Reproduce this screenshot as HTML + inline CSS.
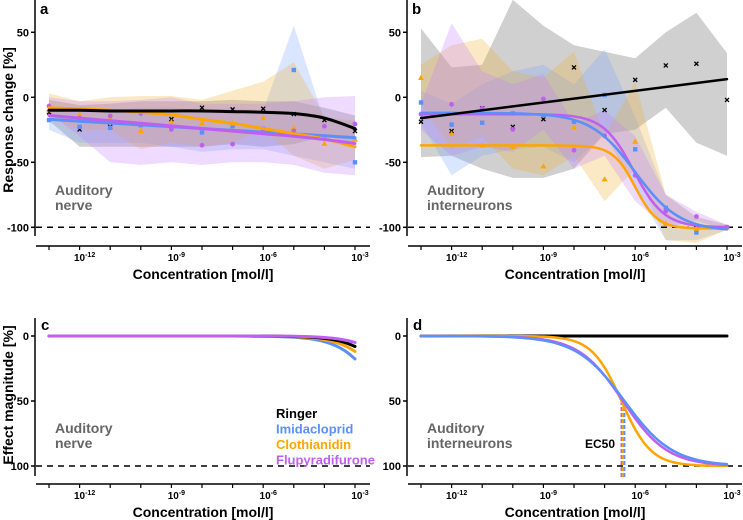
<!DOCTYPE html>
<html><head><meta charset="utf-8"><style>
body{margin:0;background:#fff}
svg{display:block;font-family:"Liberation Sans",Arial,sans-serif;font-weight:bold}
</style></head><body>
<svg id="c" width="743" height="520" viewBox="0 0 743 520"></svg>
<script>
const logConc=[-13,-12,-11,-10,-9,-8,-7,-6,-5,-4,-3];
const tickLabelLogs=[-12,-9,-6,-3];
const seriesNames=["Ringer","Imidacloprid","Clothianidin","Flupyradifurone"];
const seriesColors=["#000000","#5b8ff9","#ffa500","#bf5fef"];
const bandColors=["#555555","#7aa2ff","#f0b030","#c27cff"];
// Panel a (auditory nerve) response means
const aRinger=[-11.6,-24.7,-22.7,-21.1,-16.8,-8,-9.3,-8.8,-12.9,-17.5,-26];
const aImida=[-17.5,-22.7,-23.5,-21.4,-22.7,-27,-22.2,-24.2,21,-31,-50];
const aCloth=[-9.8,-13,-16,-25.8,-18.8,-20,-20,-15.7,-23.5,-35.6,-32.5];
const aFlupy=[-6.7,-16,-14.4,-12.4,-24.7,-36.9,-36,-24.7,-25.8,-22.2,-20.6];
const aFitRinger=[-10,-10,-10.5,-10.5,-10.5,-10.5,-11,-11.5,-12.5,-16,-24];
const aFitImida=[-17,-18.4,-19.8,-21.2,-22.6,-24,-25.4,-26.8,-28.2,-29.6,-31];
const aFitCloth=[-8,-9,-10,-11.5,-13.5,-17,-20,-24,-28,-32,-38];
const aFitFlupy=[-14,-16,-18,-20,-22,-24,-26,-28,-30,-32.5,-35.5];
const aUpRinger=[-2,-6,-5,-3,-3,-3,-2,-3,-3,-8,-14];
const aLoRinger=[-18,-38,-38,-38,-38,-38,-36,-38,-36,-30,-35];
const aUpImida=[-8,-10,-10,-8,-8,-10,-8,-10,55,-18,-18];
const aLoImida=[-25,-35,-35,-35,-38,-42,-40,-40,-45,-50,-55];
const aUpCloth=[3,-3,0,1,1,-2,5,12,27,-15,-18];
const aLoCloth=[-15,-25,-25,-40,-35,-38,-35,-25,-45,-55,-48];
const aUpFlupy=[0,-3,-3,-2,0,-5,-5,-5,-3,0,1];
const aLoFlupy=[-12,-30,-50,-52,-50,-52,-50,-50,-52,-58,-60];
// Panel b (interneurons)
const bRinger=[-18.8,-26,-8.5,-22.7,-16.8,23,-9.8,13.4,24.5,25.8,-2];
const bImida=[-4,-21,-19.6,-12.4,-14,-18.8,1.8,-40,-85,-104,-100];
const bCloth=[15,-28,-37,-38,-53,-23,-63,-34,-97,-101,-100];
const bFlupy=[-13,-5.4,-8.5,-24.7,-1.3,-40.7,-29.6,-60,-87.6,-91.7,-100];
const bUpRinger=[53,23,25,75,55,40,35,30,50,65,34];
const bLoRinger=[-46,-45,-55,-62,-62,-55,-28,-25,-8,-35,-45];
const bUpImida=[5,-5,10,20,25,10,37,-15,-75,-92,-98];
const bLoImida=[-20,-60,-45,-40,-38,-50,-28,-70,-110,-110,-102];
const bUpCloth=[25,40,45,20,15,35,-30,12,-75,-92,-98];
const bLoCloth=[-5,-40,-30,-55,-60,-45,-80,-55,-110,-112,-102];
const bUpFlupy=[-5,57,20,10,18,-20,-10,-30,-75,-88,-98];
const bLoFlupy=[-25,-45,-38,-42,-25,-55,-45,-80,-100,-95,-102];
// Fit params for b: [top, bottom, logEC50, hill]
const bRingerLine=[-16,14];
const bFitImida=[-12,-103,-6.0,0.6];
const bFitCloth=[-37,-101,-6.0,1.2];
const bFitFlupy=[-13,-100,-6.05,0.87];
// Effect magnitude fits: [logEC50, hill]
const cFitRinger=[-1.42,0.67];
const cFitImida=[-2.0,0.67];
const cFitCloth=[-1.7,0.67];
const cFitFlupy=[-1.09,0.67];
const dFitImida=[-6.35,0.55];
const dFitCloth=[-6.45,0.9];
const dFitFlupy=[-6.4,0.6];
const dEC50=[-6.45,-6.4,-6.35];
const dEC50Colors=["#bf5fef","#ffa500","#5b8ff9"];

const NS="http://www.w3.org/2000/svg";
const svg=document.getElementById('c');
function el(tag,attrs,parent){const e=document.createElementNS(NS,tag);for(const k in attrs)e.setAttribute(k,attrs[k]);(parent||svg).appendChild(e);return e;}
function xS(x0){return l=>x0+(l+13)*30.6;}
function yTop(v){return 97.3-v*1.3;}
function yBot(v){return 336+v*1.3;}
function smooth(pts){let d="M"+pts[0][0]+","+pts[0][1];for(let i=0;i<pts.length-1;i++){const p0=pts[i-1]||pts[i],p1=pts[i],p2=pts[i+1],p3=pts[i+2]||p2;
d+=" C"+(p1[0]+(p2[0]-p0[0])/6)+","+(p1[1]+(p2[1]-p0[1])/6)+" "+(p2[0]-(p3[0]-p1[0])/6)+","+(p2[1]-(p3[1]-p1[1])/6)+" "+p2[0]+","+p2[1];}return d;}
function sig(top,bot,L,h,x){return top+(bot-top)/(1+Math.pow(10,h*(L-x)));}

function axes(g,ax0,yAxTop,yAxBot,yAxisX,xLineY,yTicks,yFn,dashV){
  const X=xS(ax0);
  el('line',{x1:yAxisX,y1:yAxTop,x2:yAxisX,y2:yAxBot,stroke:'#000','stroke-width':1.5},g);
  yTicks.forEach(v=>{el('line',{x1:yAxisX-4,y1:yFn(v),x2:yAxisX,y2:yFn(v),stroke:'#000','stroke-width':1.5},g);
    const t=el('text',{x:yAxisX-6,y:yFn(v)+4,'text-anchor':'end','font-size':11},g);t.textContent=v;});
  el('line',{x1:yAxisX+1,y1:xLineY,x2:yAxisX+335,y2:xLineY,stroke:'#000','stroke-width':1.5},g);
  logConc.forEach(l=>el('line',{x1:X(l),y1:xLineY,x2:X(l),y2:xLineY+4,stroke:'#000','stroke-width':1.2},g));
  tickLabelLogs.forEach(l=>{const t=el('text',{x:X(l)+5,y:xLineY+15,'text-anchor':'middle','font-size':10},g);
    t.innerHTML='10<tspan dy="-4" font-size="7">'+l+'</tspan>';});
  el('line',{x1:yAxisX+1,y1:yFn(dashV),x2:yAxisX+335,y2:yFn(dashV),stroke:'#000','stroke-width':1.5,'stroke-dasharray':'6,5'},g);
  const t=el('text',{x:yAxisX+168,y:xLineY+33,'text-anchor':'middle','font-size':14},g);t.textContent='Concentration [mol/l]';
}
function band(g,X,up,lo,color,name){
  const pts=logConc.map((l,i)=>X(l)+","+yTop(up[i])).concat(logConc.slice().reverse().map((l,j)=>{const i=10-j;return X(l)+","+yTop(lo[i]);}));
  const p=el('polygon',{points:pts.join(' '),fill:color,'fill-opacity':0.28},g);
  
  
}
function markers(g,X,vals,k,name){
  vals.forEach((v,i)=>{const x=X(logConc[i]),y=yTop(v);let m;
    if(k===0){m=el('path',{d:`M${x-2},${y-2}L${x+2},${y+2}M${x+2},${y-2}L${x-2},${y+2}`,stroke:'#000','stroke-width':1.3},g);}
    else if(k===1){m=el('rect',{x:x-2.2,y:y-2.2,width:4.4,height:4.4,fill:seriesColors[1]},g);}
    else if(k===2){m=el('polygon',{points:`${x},${y-3} ${x+3},${y+2.2} ${x-3},${y+2.2}`,fill:seriesColors[2]},g);}
    else {m=el('circle',{cx:x,cy:y,r:2.4,fill:seriesColors[3]},g);}
    
    });
}
function curve(g,pts,color,w,name){const p=el('path',{d:smooth(pts),fill:'none',stroke:color,'stroke-width':w,'stroke-linecap':'round'},g);
  
  }
function sampled(X,yFn,f){const pts=[];for(let l=-13;l<=-3.0001+0.25;l+=0.25){const ll=Math.min(l,-3);pts.push([X(ll),yFn(f(ll))]);}return pts;}
function label(g,x,y,txt,size,color,name){const t=el('text',{x:x,y:y,'font-size':size,fill:color},g);t.textContent=txt;
  
  return t;}

// Panel a
const ga=el('g',{});


{const X=xS(49);
 band(ga,X,aUpRinger,aLoRinger,bandColors[0],'band-ringer');
 band(ga,X,aUpImida,aLoImida,bandColors[1],'band-imidacloprid');
 band(ga,X,aUpCloth,aLoCloth,bandColors[2],'band-clothianidin');
 band(ga,X,aUpFlupy,aLoFlupy,bandColors[3],'band-flupyradifurone');
 axes(ga,49,0,236,35,246,[50,0,-50,-100],yTop,-100);
 markers(ga,X,aRinger,0,'points-ringer');markers(ga,X,aImida,1,'points-imidacloprid');markers(ga,X,aCloth,2,'points-clothianidin');markers(ga,X,aFlupy,3,'points-flupyradifurone');
 curve(ga,logConc.map((l,i)=>[X(l),yTop(aFitImida[i])]),seriesColors[1],3,'fit-imidacloprid');
 curve(ga,logConc.map((l,i)=>[X(l),yTop(aFitCloth[i])]),seriesColors[2],3,'fit-clothianidin');
 curve(ga,logConc.map((l,i)=>[X(l),yTop(aFitFlupy[i])]),seriesColors[3],3,'fit-flupyradifurone');
 curve(ga,logConc.map((l,i)=>[X(l),yTop(aFitRinger[i])]),'#000',3,'fit-ringer');
 label(ga,40,14,'a',15,'#000','panel-letter-a');
 label(ga,55,195,'Auditory',14,'#666','annotation-line1');label(ga,55,210,'nerve',14,'#666','annotation-line2');
 const yt=el('text',{x:0,y:0,'font-size':14,'text-anchor':'middle',transform:'translate(13,120) rotate(-90)'},ga);yt.textContent='Response change [%]';
 
 
}
// Panel b
const gb=el('g',{});


{const X=xS(421);
 band(gb,X,bUpRinger,bLoRinger,bandColors[0],'band-ringer');
 band(gb,X,bUpImida,bLoImida,bandColors[1],'band-imidacloprid');
 band(gb,X,bUpCloth,bLoCloth,bandColors[2],'band-clothianidin');
 band(gb,X,bUpFlupy,bLoFlupy,bandColors[3],'band-flupyradifurone');
 axes(gb,421,0,236,407,246,[50,0,-50,-100],yTop,-100);
 markers(gb,X,bRinger,0,'points-ringer');markers(gb,X,bImida,1,'points-imidacloprid');markers(gb,X,bCloth,2,'points-clothianidin');markers(gb,X,bFlupy,3,'points-flupyradifurone');
 curve(gb,sampled(X,yTop,x=>sig(...bFitCloth,x)),seriesColors[2],2.5,'fit-clothianidin');
 curve(gb,sampled(X,yTop,x=>sig(...bFitFlupy,x)),seriesColors[3],2.5,'fit-flupyradifurone');
 curve(gb,sampled(X,yTop,x=>sig(...bFitImida,x)),seriesColors[1],2.5,'fit-imidacloprid');
 curve(gb,[[X(-13),yTop(bRingerLine[0])],[X(-3),yTop(bRingerLine[1])]],'#000',2.5,'fit-ringer');
 label(gb,412,14,'b',15,'#000','panel-letter-b');
 label(gb,427,195,'Auditory',14,'#666','annotation-line1');label(gb,427,210,'interneurons',14,'#666','annotation-line2');
}
// Panel c
const gc=el('g',{});


{const X=xS(49);
 axes(gc,49,318,476,35,484,[0,50,100],yBot,100);
 const fits=[cFitImida,cFitCloth,cFitRinger,cFitFlupy],cols=[1,2,0,3];
 fits.forEach((f,j)=>curve(gc,sampled(X,yBot,x=>sig(0,100,f[0],f[1],x)),seriesColors[cols[j]],3,'fit-'+seriesNames[cols[j]].toLowerCase()));
 label(gc,41,330,'c',15,'#000','panel-letter-c');
 label(gc,55,433,'Auditory',14,'#666','annotation-line1');label(gc,55,448,'nerve',14,'#666','annotation-line2');
 seriesNames.forEach((n,i)=>label(gc,276,418+i*15.5,n,13,seriesColors[i],'legend-entry-'+n.toLowerCase()));
 const yt=el('text',{x:0,y:0,'font-size':14,'text-anchor':'middle',transform:'translate(13,395) rotate(-90)'},gc);yt.textContent='Effect magnitude [%]';
 
 
}
// Panel d
const gd=el('g',{});


{const X=xS(421);
 axes(gd,421,318,476,407,484,[0,50,100],yBot,100);
 dEC50.forEach((l,i)=>{const ln=el('line',{x1:X(l),y1:yBot(50),x2:X(l),y2:478,stroke:dEC50Colors[i],'stroke-width':1.8,'stroke-dasharray':'4,2'},gd);
   
   });
 curve(gd,[[X(-13),yBot(0)],[X(-3),yBot(0)]],'#000',3,'fit-ringer');
 curve(gd,sampled(X,yBot,x=>sig(0,100,dFitCloth[0],dFitCloth[1],x)),seriesColors[2],2.5,'fit-clothianidin');
 curve(gd,sampled(X,yBot,x=>sig(0,100,dFitFlupy[0],dFitFlupy[1],x)),seriesColors[3],2.5,'fit-flupyradifurone');
 curve(gd,sampled(X,yBot,x=>sig(0,100,dFitImida[0],dFitImida[1],x)),seriesColors[1],2.5,'fit-imidacloprid');
 label(gd,413,330,'d',15,'#000','panel-letter-d');
 label(gd,427,433,'Auditory',14,'#666','annotation-line1');label(gd,427,448,'interneurons',14,'#666','annotation-line2');
 label(gd,585,448,'EC50',12,'#000','ec50-label');
}
</script>
</body></html>
